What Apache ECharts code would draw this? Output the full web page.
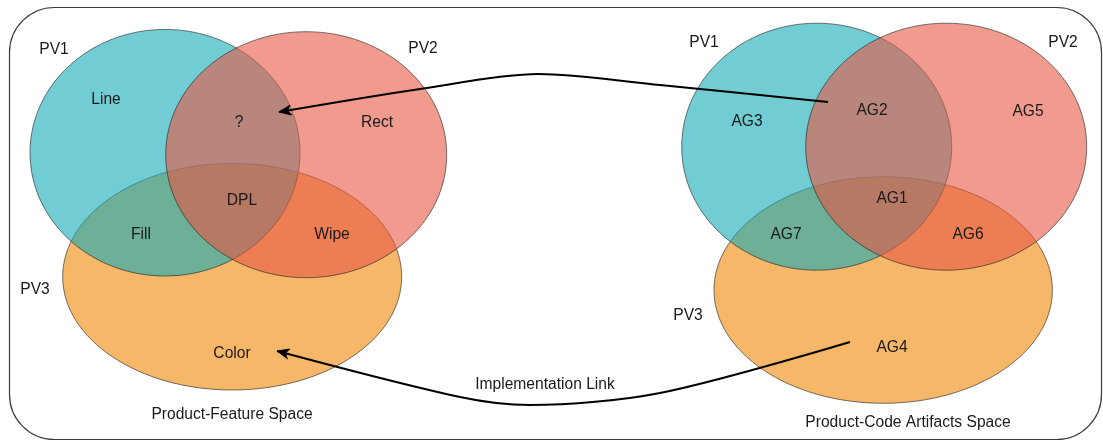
<!DOCTYPE html>
<html><head><meta charset="utf-8">
<script src="https://cdn.jsdelivr.net/npm/echarts@6/dist/echarts.min.js"></script>
<style>html,body{margin:0;padding:0;background:#fff}#c{width:1103px;height:441px}</style>
</head><body><div id="c"></div>
<script>
// ---- data (diagram units on hidden value axes) ----
const setNames = ['PV1', 'PV2', 'PV3'];
// [cx, cy, rx, ry] for PV1, PV2, PV3
const featureSets = [[165, 152.7, 135, 123.3], [306.2, 154.7, 140.5, 123], [232.2, 276.7, 169.5, 113.3]];
const artifactSets = [[816.7, 146.7, 135, 123.5], [946.2, 146.7, 140.5, 123.5], [883.2, 290, 169.2, 113.3]];
const setLabelPos = [[54, 50], [423, 49], [35, 290], [704, 43], [1063, 43], [688, 316]];
const regionLabels = ['Line', '?', 'Rect', 'DPL', 'Fill', 'Wipe', 'Color', 'AG3', 'AG2', 'AG5', 'AG1', 'AG7', 'AG6', 'AG4'];
const regionPos = [[106, 100], [239, 123], [377, 123], [242, 201], [141, 235], [332, 235], [232, 354],
  [747, 122], [872, 111], [1028, 112], [892, 199], [786, 235], [968, 235], [892, 348]];
const titleLabels = ['Product-Feature Space', 'Product-Code Artifacts Space', 'Implementation Link'];
const titlePos = [[232, 415], [908, 423], [545, 385]];
const linkTop = [[828, 102], [660, 85], [538, 74], [420, 89], [279, 112]];
const linkBottom = [[850, 342], [660, 393], [530, 405], [460, 397], [277, 351]];
const frameBox = [9.5, 7.5, 1101.5, 439.5];

// ---- styles ----
const setFill = ['rgba(18,170,181,0.6)', 'rgba(232,86,66,0.6)', 'rgba(240,135,5,0.6)'];
const setStroke = 'rgba(30,30,30,0.6)';
const FONT = '15.6px "Liberation Sans", Arial, sans-serif';
const TEXT = '#1a1a1a';

// drawing order: PV3 bottom, then PV1, then PV2
const order = [2, 0, 1];
const ellipseData = [];
[featureSets, artifactSets].forEach(sets => {
  order.forEach(k => ellipseData.push([sets[k][0], sets[k][1], sets[k][2], sets[k][3], k]));
});

const allLabels = [];
setLabelPos.forEach((p, i) => allLabels.push({ value: [p[0], p[1]], name: setNames[i % 3] }));
regionPos.forEach((p, i) => allLabels.push({ value: [p[0], p[1]], name: regionLabels[i] }));
titlePos.forEach((p, i) => allLabels.push({ value: [p[0], p[1]], name: titleLabels[i] }));

const links = [linkTop, linkBottom];
const arrowData = links.map(l => [l[l.length - 1][0], l[l.length - 1][1], l[l.length - 2][0], l[l.length - 2][1]]);

const chart = echarts.init(document.getElementById('c'), null, { renderer: 'canvas' });
const series = [
  {
    type: 'custom', coordinateSystem: 'cartesian2d', silent: true, z: 1,
    data: [frameBox],
    renderItem(params, api) {
      const a = api.coord([api.value(0), api.value(1)]);
      const b = api.coord([api.value(2), api.value(3)]);
      return { type: 'rect', shape: { x: a[0], y: a[1], width: b[0] - a[0], height: b[1] - a[1], r: 45 },
        style: { fill: 'none', stroke: '#3a3a3a', lineWidth: 1.2 } };
    }
  },
  {
    type: 'custom', coordinateSystem: 'cartesian2d', silent: true, z: 2,
    data: ellipseData,
    renderItem(params, api) {
      const c = api.coord([api.value(0), api.value(1)]);
      const s = api.size([api.value(2), api.value(3)], [api.value(0), api.value(1)]);
      const k = api.value(4);
      return { type: 'ellipse', shape: { cx: c[0], cy: c[1], rx: s[0], ry: s[1] },
        style: { fill: setFill[k], stroke: setStroke, lineWidth: 1 } };
    }
  }
];
links.forEach(l => series.push({
  type: 'line', data: l, smooth: 0.3, symbol: 'none', silent: true, z: 5,
  lineStyle: { color: '#000', width: 2 }
}));
series.push({
  type: 'custom', coordinateSystem: 'cartesian2d', silent: true, z: 6,
  data: arrowData,
  renderItem(params, api) {
    const t = api.coord([api.value(0), api.value(1)]);
    const p = api.coord([api.value(2), api.value(3)]);
    let dx = t[0] - p[0], dy = t[1] - p[1];
    const len = Math.hypot(dx, dy); dx /= len; dy /= len;
    const nx = -dy, ny = dx, L = 12, W = 5, N = 3.5;
    return { type: 'polygon', shape: { points: [
      [t[0], t[1]],
      [t[0] - dx * L + nx * W, t[1] - dy * L + ny * W],
      [t[0] - dx * (L - N), t[1] - dy * (L - N)],
      [t[0] - dx * L - nx * W, t[1] - dy * L - ny * W]
    ] }, style: { fill: '#000', stroke: '#000', lineWidth: 1 } };
  }
});
series.push({
  type: 'custom', coordinateSystem: 'cartesian2d', silent: true, z: 10,
  data: allLabels,
  renderItem(params, api) {
    const c = api.coord([api.value(0), api.value(1)]);
    return { type: 'text', x: c[0], y: c[1],
      style: { text: allLabels[params.dataIndex].name, font: FONT, fill: TEXT, align: 'center', verticalAlign: 'middle' } };
  }
});

chart.setOption({
  animation: false,
  grid: { left: 0, right: 0, top: 0, bottom: 0 },
  xAxis: { type: 'value', min: 0, max: 1103, show: false },
  yAxis: { type: 'value', min: 0, max: 441, inverse: true, show: false },
  series
});
</script></body></html>
